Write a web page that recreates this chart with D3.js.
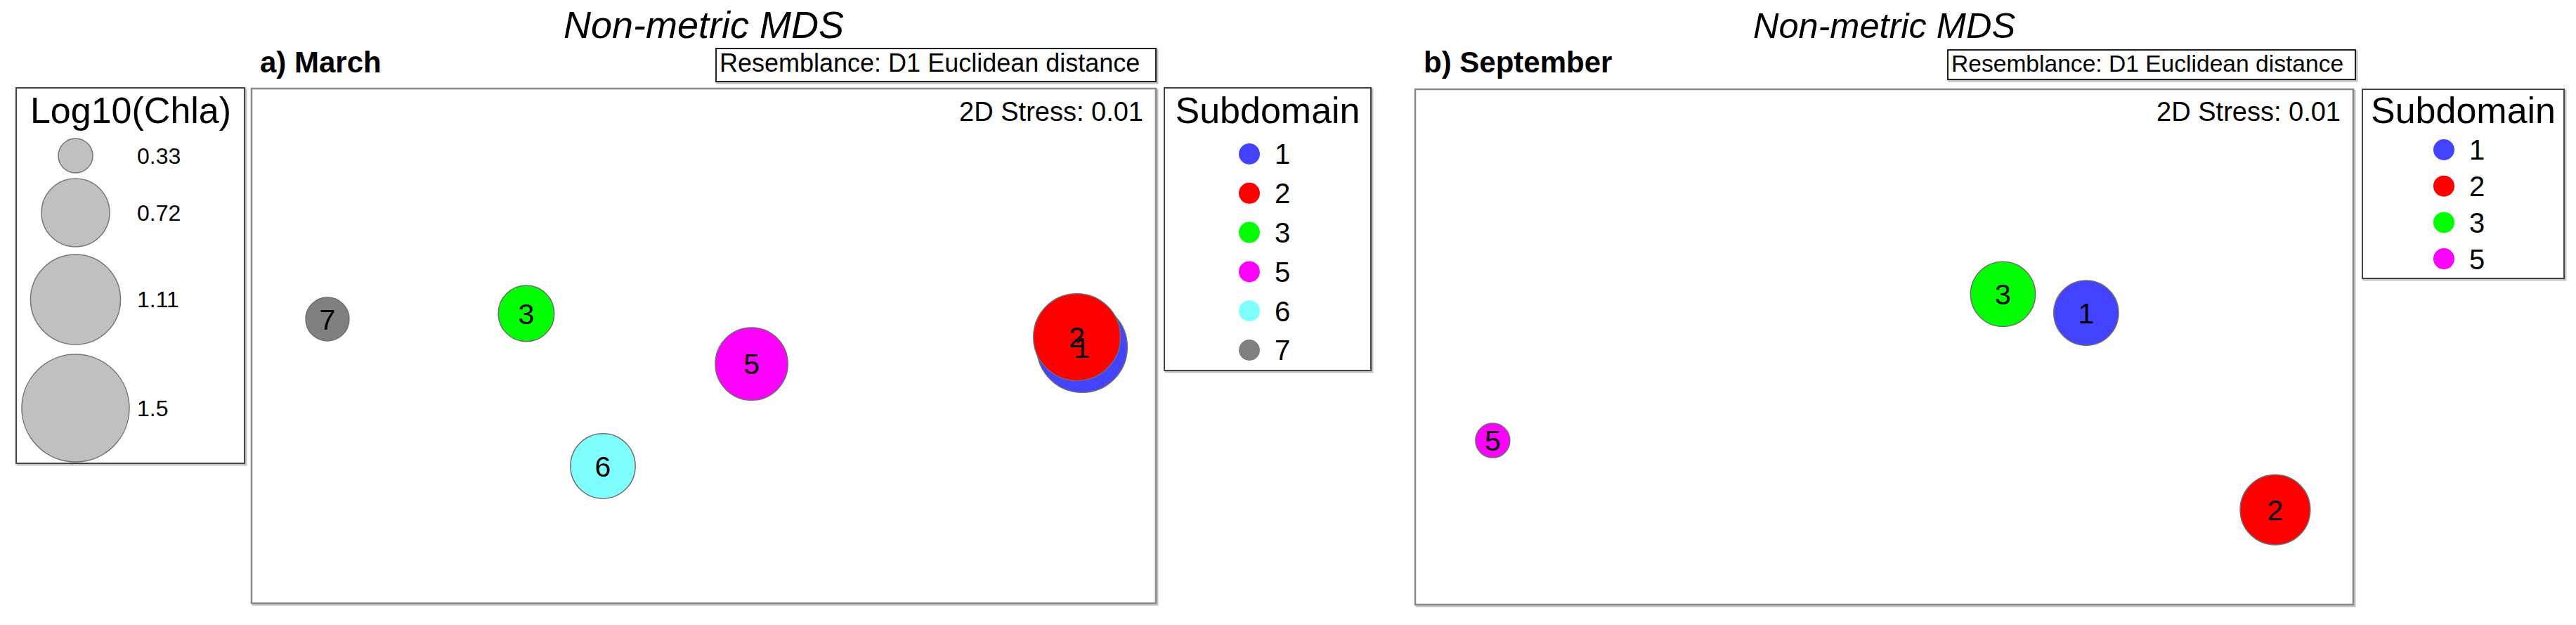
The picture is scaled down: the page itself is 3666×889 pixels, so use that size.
<!DOCTYPE html>
<html>
<head>
<meta charset="utf-8">
<script src="https://cdn.jsdelivr.net/npm/d3@7"></script>
<style>
  body { margin: 0; background: #fff; }
  text { font-family: "Liberation Sans", Arial, sans-serif; }
</style>
</head>
<body>
<svg id="chart" width="3666" height="889"></svg>
<script>
// subdomain colours (legend order)
const subdomains = ["1", "2", "3", "5", "6", "7"];
const subColors = ["#4343ff", "#ff0000", "#00ff00", "#ff00ff", "#80ffff", "#808080"];

// a) March: MDS coordinates and log10(Chla)
const marchSub = ["1", "2", "3", "5", "6", "7"];
const marchMDS1 = [1.471, 1.451, -0.690, 0.186, -0.392, -1.463];
const marchMDS2 = [-0.005, 0.034, 0.126, -0.070, -0.467, 0.104];
const marchChla = [1.12, 1.05, 0.55, 0.79, 0.67, 0.41];

// b) September
const septSub = ["1", "2", "3", "5"];
const septMDS1 = [0.784, 1.518, 0.461, -1.520];
const septMDS2 = [0.132, -0.632, 0.205, -0.363];
const septChla = [0.67, 0.75, 0.67, 0.33];

// bubble size legend
const chlaLegend = [0.33, 0.72, 1.11, 1.5];

const svg = d3.select("#chart");
const color = d3.scaleOrdinal().domain(subdomains).range(subColors);
const radius = d3.scaleRadial().domain([0.33, 1.5]).range([24.5, 76.5]);

function box(g, x0, y0, x1, y1, stroke, sw) {
    // soft shadow then the frame
    g.append("rect")
        .attr("x", x0 + 2).attr("y", y0 + 2)
        .attr("width", x1 - x0).attr("height", y1 - y0)
        .attr("fill", "none").attr("stroke", "#c4c4c4").attr("stroke-width", 3);
    g.append("rect")
        .attr("x", x0).attr("y", y0)
        .attr("width", x1 - x0).attr("height", y1 - y0)
        .attr("fill", "#fff").attr("stroke", stroke).attr("stroke-width", sw);
}

// Log10(Chla) legend
const sl = svg.append("g");
box(sl, 23, 125, 348, 659, "#444", 2);
sl.append("text")
    .attr("x", 186).attr("y", 175)
    .attr("text-anchor", "middle")
    .attr("font-size", 52)
    .text("Log10(Chla)");

let nextTop = 197;
chlaLegend.forEach((v, i) => {
    const r = radius(v);
    const cy = nextTop + r;
    nextTop = cy + r + 8 + 3 * i;
    sl.append("circle")
        .attr("cx", 107.5).attr("cy", cy).attr("r", r)
        .attr("fill", "#c0c0c0").attr("stroke", "#777").attr("stroke-width", 1.5);
    sl.append("text")
        .attr("x", 195).attr("y", cy).attr("dy", "0.35em")
        .attr("font-size", 32)
        .text(v);
});

const panels = [
    {
        label: "a) March", sub: marchSub, mds1: marchMDS1, mds2: marchMDS2, chla: marchChla,
        x0: 358, x1: 1645, y0: 126, y1: 858, xr: 1.758,
        titleSize: 54, resBox: [1019, 69, 1645, 116], resSize: 36,
        legend: { x0: 1657, y0: 125, x1: 1951, y1: 527, first: 219, step: 55.8, cx: 1778 }
    },
    {
        label: "b) September", sub: septSub, mds1: septMDS1, mds2: septMDS2, chla: septChla,
        x0: 2014, x1: 3349, y0: 127, y1: 860, xr: 1.821,
        titleSize: 50.5, resBox: [2772, 71, 3352, 113], resSize: 33.6,
        legend: { x0: 3362, y0: 127, x1: 3649, y1: 396, first: 213, step: 51.7, cx: 3478 }
    }
];

panels.forEach(p => {
    const g = svg.append("g");
    const x = d3.scaleLinear().domain([-p.xr, p.xr]).range([p.x0, p.x1]);
    const y = d3.scaleLinear().domain([-1, 1]).range([p.y1, p.y0]);

    g.append("text")
        .attr("x", (p.x0 + p.x1) / 2).attr("y", 54)
        .attr("text-anchor", "middle")
        .attr("font-size", p.titleSize)
        .attr("font-style", "italic")
        .text("Non-metric MDS");

    g.append("text")
        .attr("x", p.x0 + 12).attr("y", 103)
        .attr("font-size", 42)
        .attr("font-weight", "bold")
        .text(p.label);

    const [rx0, ry0, rx1, ry1] = p.resBox;
    box(g, rx0, ry0, rx1, ry1, "#222", 2);
    g.append("text")
        .attr("x", rx0 + 5).attr("y", 102)
        .attr("font-size", p.resSize)
        .text("Resemblance: D1 Euclidean distance");

    box(g, p.x0, p.y0, p.x1, p.y1, "#8a8a8a", 2.5);

    g.append("text")
        .attr("x", p.x1 - 18).attr("y", 172)
        .attr("text-anchor", "end")
        .attr("font-size", 38)
        .text("2D Stress: 0.01");

    const pts = p.sub.map((s, i) => ({ s, m1: p.mds1[i], m2: p.mds2[i], v: p.chla[i] }));

    g.append("g")
        .selectAll("circle")
        .data(pts)
        .join("circle")
        .attr("cx", d => x(d.m1))
        .attr("cy", d => y(d.m2))
        .attr("r", d => radius(d.v))
        .attr("fill", d => color(d.s))
        .attr("stroke", "#6e6e6e")
        .attr("stroke-width", 1.5);

    g.append("g")
        .selectAll("text")
        .data(pts)
        .join("text")
        .attr("x", d => x(d.m1))
        .attr("y", d => y(d.m2))
        .attr("dy", "0.36em")
        .attr("text-anchor", "middle")
        .attr("font-size", 41)
        .text(d => d.s);

    // Subdomain legend
    const L = p.legend;
    const lg = svg.append("g");
    box(lg, L.x0, L.y0, L.x1, L.y1, "#444", 2);
    lg.append("text")
        .attr("x", (L.x0 + L.x1) / 2).attr("y", 175)
        .attr("text-anchor", "middle")
        .attr("font-size", 52)
        .text("Subdomain");

    const item = lg.selectAll("g.item")
        .data(p.sub)
        .join("g")
        .attr("class", "item")
        .attr("transform", (d, i) => `translate(${L.cx},${L.first + i * L.step})`);
    item.append("circle")
        .attr("r", 15)
        .attr("fill", d => color(d));
    item.append("text")
        .attr("x", 36).attr("dy", "0.36em")
        .attr("font-size", 40)
        .text(d => d);
});
</script>
</body>
</html>
